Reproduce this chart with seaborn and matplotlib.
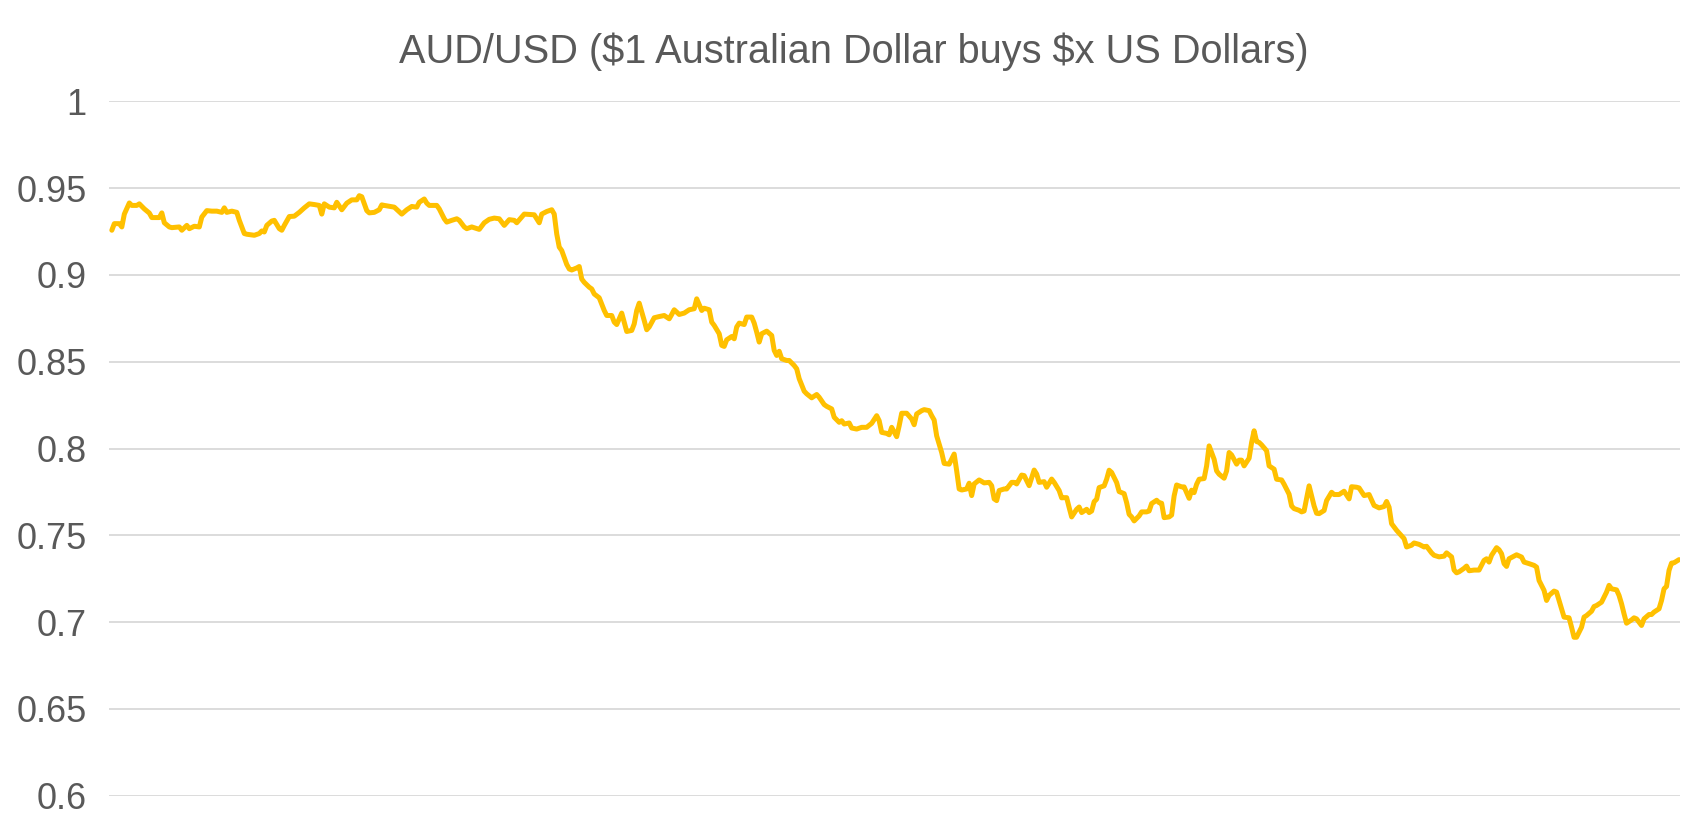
import numpy as np
import pandas as pd
import matplotlib
matplotlib.use('Agg')
import matplotlib.pyplot as plt
import seaborn as sns

#%% data (trading day number, AUD/USD rate)
day = [0, 1, 3, 4, 5, 7, 8, 10, 11, 13, 15, 16, 19, 20, 21, 23, 24, 27, 28, 30,
       31, 33, 35, 36, 38, 40, 42, 44, 45, 46, 48, 50, 51, 53, 54, 57, 59, 60, 61, 62,
       64, 65, 67, 68, 69, 71, 73, 75, 77, 79, 81, 83, 84, 85, 87, 89, 90, 92, 94, 96,
       98, 99, 100, 102, 103, 105, 107, 108, 109, 111,
       113, 116, 118, 120, 122, 123, 125, 126, 127, 130, 131, 133, 134, 136, 138, 139,
       141, 142, 144, 147, 149, 151, 153, 155, 157, 159, 161, 162, 164, 165, 167, 169,
       171, 172, 174, 176, 177,
       178, 179, 180, 182, 183, 184, 186, 187, 188, 189, 191, 192, 193, 195, 197, 198,
       200, 201, 202, 204, 205, 206, 208, 209, 210, 211, 213, 214, 215, 217, 219, 221,
       223, 224, 225, 227, 229, 231, 233, 234, 236, 237, 239, 240, 241, 243, 244, 245,
       246, 248, 249, 250, 251, 253, 254, 256, 257, 258, 259, 260, 262, 264, 265, 266,
       267, 268, 270, 271, 273, 274,
       275, 277, 278, 280, 282, 283, 285, 286, 288, 289, 291, 292, 293, 295, 296, 298,
       300, 302, 304, 306, 307, 308, 310, 311, 312, 314, 315, 316, 318, 320, 321, 322,
       324, 325, 327, 328, 329, 330,
       332, 333, 335, 337, 338, 339, 340, 342, 343, 344, 345, 347, 349, 351, 352, 353,
       354, 355, 357, 358, 360, 361, 362, 364, 365, 367, 369, 370, 371, 373, 374, 376,
       377, 379, 380,
       381, 382, 383, 384, 386, 387, 388, 390, 391, 392, 393, 394, 395, 397, 398, 399,
       400, 402, 403, 405, 406, 407, 408, 409, 411, 412, 414, 415, 416, 418, 419, 420,
       421, 423, 424, 425, 426, 428, 429, 431, 432, 433, 434, 435, 437, 438, 439, 441,
       442, 443, 445, 446, 447, 448, 450, 451, 452, 453, 455, 456, 457, 458, 459, 460,
       462, 463, 465, 466, 468, 469, 471, 472, 473, 475, 476, 477, 479, 480, 481, 482,
       483,
       485, 486, 488, 489, 491, 493, 495, 496, 498, 499, 501, 503, 505, 507, 509, 510,
       511, 512, 514, 515, 517, 518, 520, 521, 523, 525, 526, 528, 529, 531, 533, 534,
       536, 537, 538, 539, 541, 542, 543, 545, 547,
       549, 550, 551, 552, 554, 555, 556, 557, 558, 559, 561, 562, 564, 565, 567, 569,
       570, 571, 573, 574, 575, 577, 578, 579, 580, 581, 583, 584, 585, 586, 588, 589,
       590, 592, 593, 594, 596, 597, 598, 599, 600, 602, 603, 604, 605, 606, 608, 609,
       610, 612, 613, 615, 616, 617, 619, 620, 621, 622, 623, 624, 625, 627]

rate = [0.9257, 0.9295, 0.9295, 0.9276, 0.9350, 0.9414, 0.9400, 0.9400, 0.9409, 0.9380,
        0.9356, 0.9330, 0.9330, 0.9357, 0.9300, 0.9276, 0.9272, 0.9276, 0.9257, 0.9285,
        0.9266, 0.9280, 0.9276, 0.9333, 0.9370, 0.9367, 0.9367, 0.9360, 0.9386, 0.9360,
        0.9367, 0.9360, 0.9314, 0.9238, 0.9234, 0.9228, 0.9238, 0.9253, 0.9247, 0.9285,
        0.9310, 0.9314, 0.9266, 0.9257, 0.9285, 0.9336, 0.9338, 0.9360, 0.9386, 0.9409,
        0.9405, 0.9400, 0.9350, 0.9409, 0.9390, 0.9386, 0.9418, 0.9375, 0.9413, 0.9432,
        0.9432, 0.9456, 0.9450, 0.9370, 0.9357, 0.9360, 0.9375, 0.9403, 0.9400, 0.9395,
        0.9390, 0.9350, 0.9375, 0.9394, 0.9390, 0.9418, 0.9437, 0.9413, 0.9400, 0.9400,
        0.9380, 0.9323, 0.9304, 0.9314, 0.9323, 0.9314, 0.9276, 0.9266, 0.9276, 0.9262,
        0.9300, 0.9320, 0.9327, 0.9323, 0.9285, 0.9318, 0.9314, 0.9300, 0.9333, 0.9350,
        0.9348, 0.9346, 0.9300, 0.9350, 0.9365, 0.9375, 0.9350,
        0.9235, 0.9160, 0.9140, 0.9060, 0.9034, 0.9028, 0.9040, 0.9048, 0.8976, 0.8957,
        0.8929, 0.8919, 0.8890, 0.8868, 0.8795, 0.8766, 0.8766, 0.8728, 0.8714, 0.8780,
        0.8728, 0.8674, 0.8680, 0.8718, 0.8795, 0.8837, 0.8737, 0.8684, 0.8700, 0.8753,
        0.8760, 0.8766, 0.8747, 0.8772, 0.8799, 0.8772, 0.8780, 0.8799, 0.8805, 0.8862,
        0.8795, 0.8808, 0.8799, 0.8728, 0.8709, 0.8661, 0.8594, 0.8588, 0.8626, 0.8645,
        0.8632, 0.8700, 0.8722, 0.8714, 0.8757, 0.8757, 0.8722, 0.8670, 0.8613, 0.8661,
        0.8676, 0.8651, 0.8565, 0.8536, 0.8560, 0.8517, 0.8507, 0.8507, 0.8478, 0.8459,
        0.8402, 0.8330, 0.8315, 0.8292, 0.8311, 0.8295, 0.8253, 0.8243, 0.8228, 0.8180,
        0.8151, 0.8160, 0.8141, 0.8147, 0.8118, 0.8112, 0.8122, 0.8122, 0.8145, 0.8189,
        0.8160, 0.8093, 0.8087, 0.8079, 0.8122, 0.8068, 0.8131, 0.8203, 0.8203, 0.8170,
        0.8137, 0.8199, 0.8218, 0.8224, 0.8218, 0.8189, 0.8164, 0.8073,
        0.7977, 0.7914, 0.7910, 0.7968, 0.7872, 0.7767, 0.7761, 0.7767, 0.7800, 0.7729,
        0.7796, 0.7819, 0.7802, 0.7805, 0.7786, 0.7710, 0.7700, 0.7758, 0.7767, 0.7767,
        0.7805, 0.7805, 0.7796, 0.7847, 0.7844, 0.7786, 0.7876, 0.7853, 0.7805, 0.7809,
        0.7777, 0.7824, 0.7805, 0.7758, 0.7716,
        0.7717, 0.7717, 0.7660, 0.7606, 0.7650, 0.7663, 0.7631, 0.7650, 0.7631, 0.7640,
        0.7694, 0.7708, 0.7775, 0.7785, 0.7823, 0.7875, 0.7862, 0.7804, 0.7752, 0.7740,
        0.7688, 0.7621, 0.7606, 0.7583, 0.7612, 0.7635, 0.7635, 0.7640, 0.7683, 0.7702,
        0.7688, 0.7685, 0.7602, 0.7606, 0.7617, 0.7727, 0.7790, 0.7779, 0.7779, 0.7713,
        0.7760, 0.7746, 0.7794, 0.7823, 0.7827, 0.7900, 0.8015, 0.7938, 0.7871, 0.7852,
        0.7829, 0.7871, 0.7977, 0.7963, 0.7910, 0.7933, 0.7933, 0.7900, 0.7944, 0.8035,
        0.8102, 0.8040, 0.8035, 0.8021, 0.7987, 0.7900, 0.7881, 0.7823, 0.7819, 0.7794,
        0.7737, 0.7669, 0.7654, 0.7644, 0.7635, 0.7640, 0.7785, 0.7727, 0.7669, 0.7627,
        0.7625,
        0.7643, 0.7700, 0.7748, 0.7735, 0.7735, 0.7754, 0.7710, 0.7780, 0.7777, 0.7773,
        0.7729, 0.7735, 0.7672, 0.7658, 0.7666, 0.7695, 0.7662, 0.7567, 0.7529, 0.7513,
        0.7481, 0.7433, 0.7443, 0.7456, 0.7448, 0.7433, 0.7437, 0.7399, 0.7385, 0.7376,
        0.7380, 0.7399, 0.7376, 0.7300, 0.7284, 0.7290, 0.7310, 0.7323, 0.7296, 0.7300,
        0.7300,
        0.7356, 0.7365, 0.7346, 0.7385, 0.7429, 0.7417, 0.7394, 0.7337, 0.7321, 0.7365,
        0.7380, 0.7388, 0.7375, 0.7346, 0.7337, 0.7327, 0.7317, 0.7240, 0.7183, 0.7125,
        0.7154, 0.7179, 0.7173, 0.7125, 0.7077, 0.7029, 0.7025, 0.6971, 0.6913, 0.6913,
        0.6971, 0.7029, 0.7038, 0.7063, 0.7090, 0.7096, 0.7115, 0.7144, 0.7173, 0.7212,
        0.7192, 0.7186, 0.7154, 0.7106, 0.7048, 0.6994, 0.7013, 0.7025, 0.7019, 0.6981,
        0.7019, 0.7044, 0.7044, 0.7058, 0.7077, 0.7125, 0.7192, 0.7206, 0.7298, 0.7340,
        0.7342, 0.7360]

title = r'AUD/USD (\$1 Australian Dollar buys \$x US Dollars)'
yticks = [0.6, 0.65, 0.7, 0.75, 0.8, 0.85, 0.9, 0.95, 1.0]
ylabels = ['0.6', '0.65', '0.7', '0.75', '0.8', '0.85', '0.9', '0.95', '1']

df = pd.DataFrame({'day': day, 'rate': rate})

#%% plot
sns.set_style('white')
plt.rcParams['font.family'] = ['Liberation Sans', 'DejaVu Sans']

fig = plt.figure(figsize=(17.07, 8.25), dpi=100)
ax = fig.add_axes([0.0639, 0.0354, 0.9203, 0.8419])

sns.lineplot(data=df, x='day', y='rate', color='#FFC000', linewidth=3.6, ax=ax)

ax.set_ylim(0.6, 1.0)
ax.set_xlim(-1.1, 627.4)
ax.set_yticks(yticks)
ax.set_yticklabels(ylabels)
ax.set_xticks([])
ax.grid(axis='y', color='#D9D9D9', linewidth=1.3)
ax.set_axisbelow(True)
for s in ax.spines.values():
    s.set_visible(False)
ax.tick_params(axis='y', length=0, pad=16, labelsize=26, labelcolor='#595959')
ax.set_xlabel('')
ax.set_ylabel('')

fig.text(0.5, 0.937, title, ha='center', va='center', fontsize=28.6, color='#595959')

fig.savefig('out.png', dpi=100)
